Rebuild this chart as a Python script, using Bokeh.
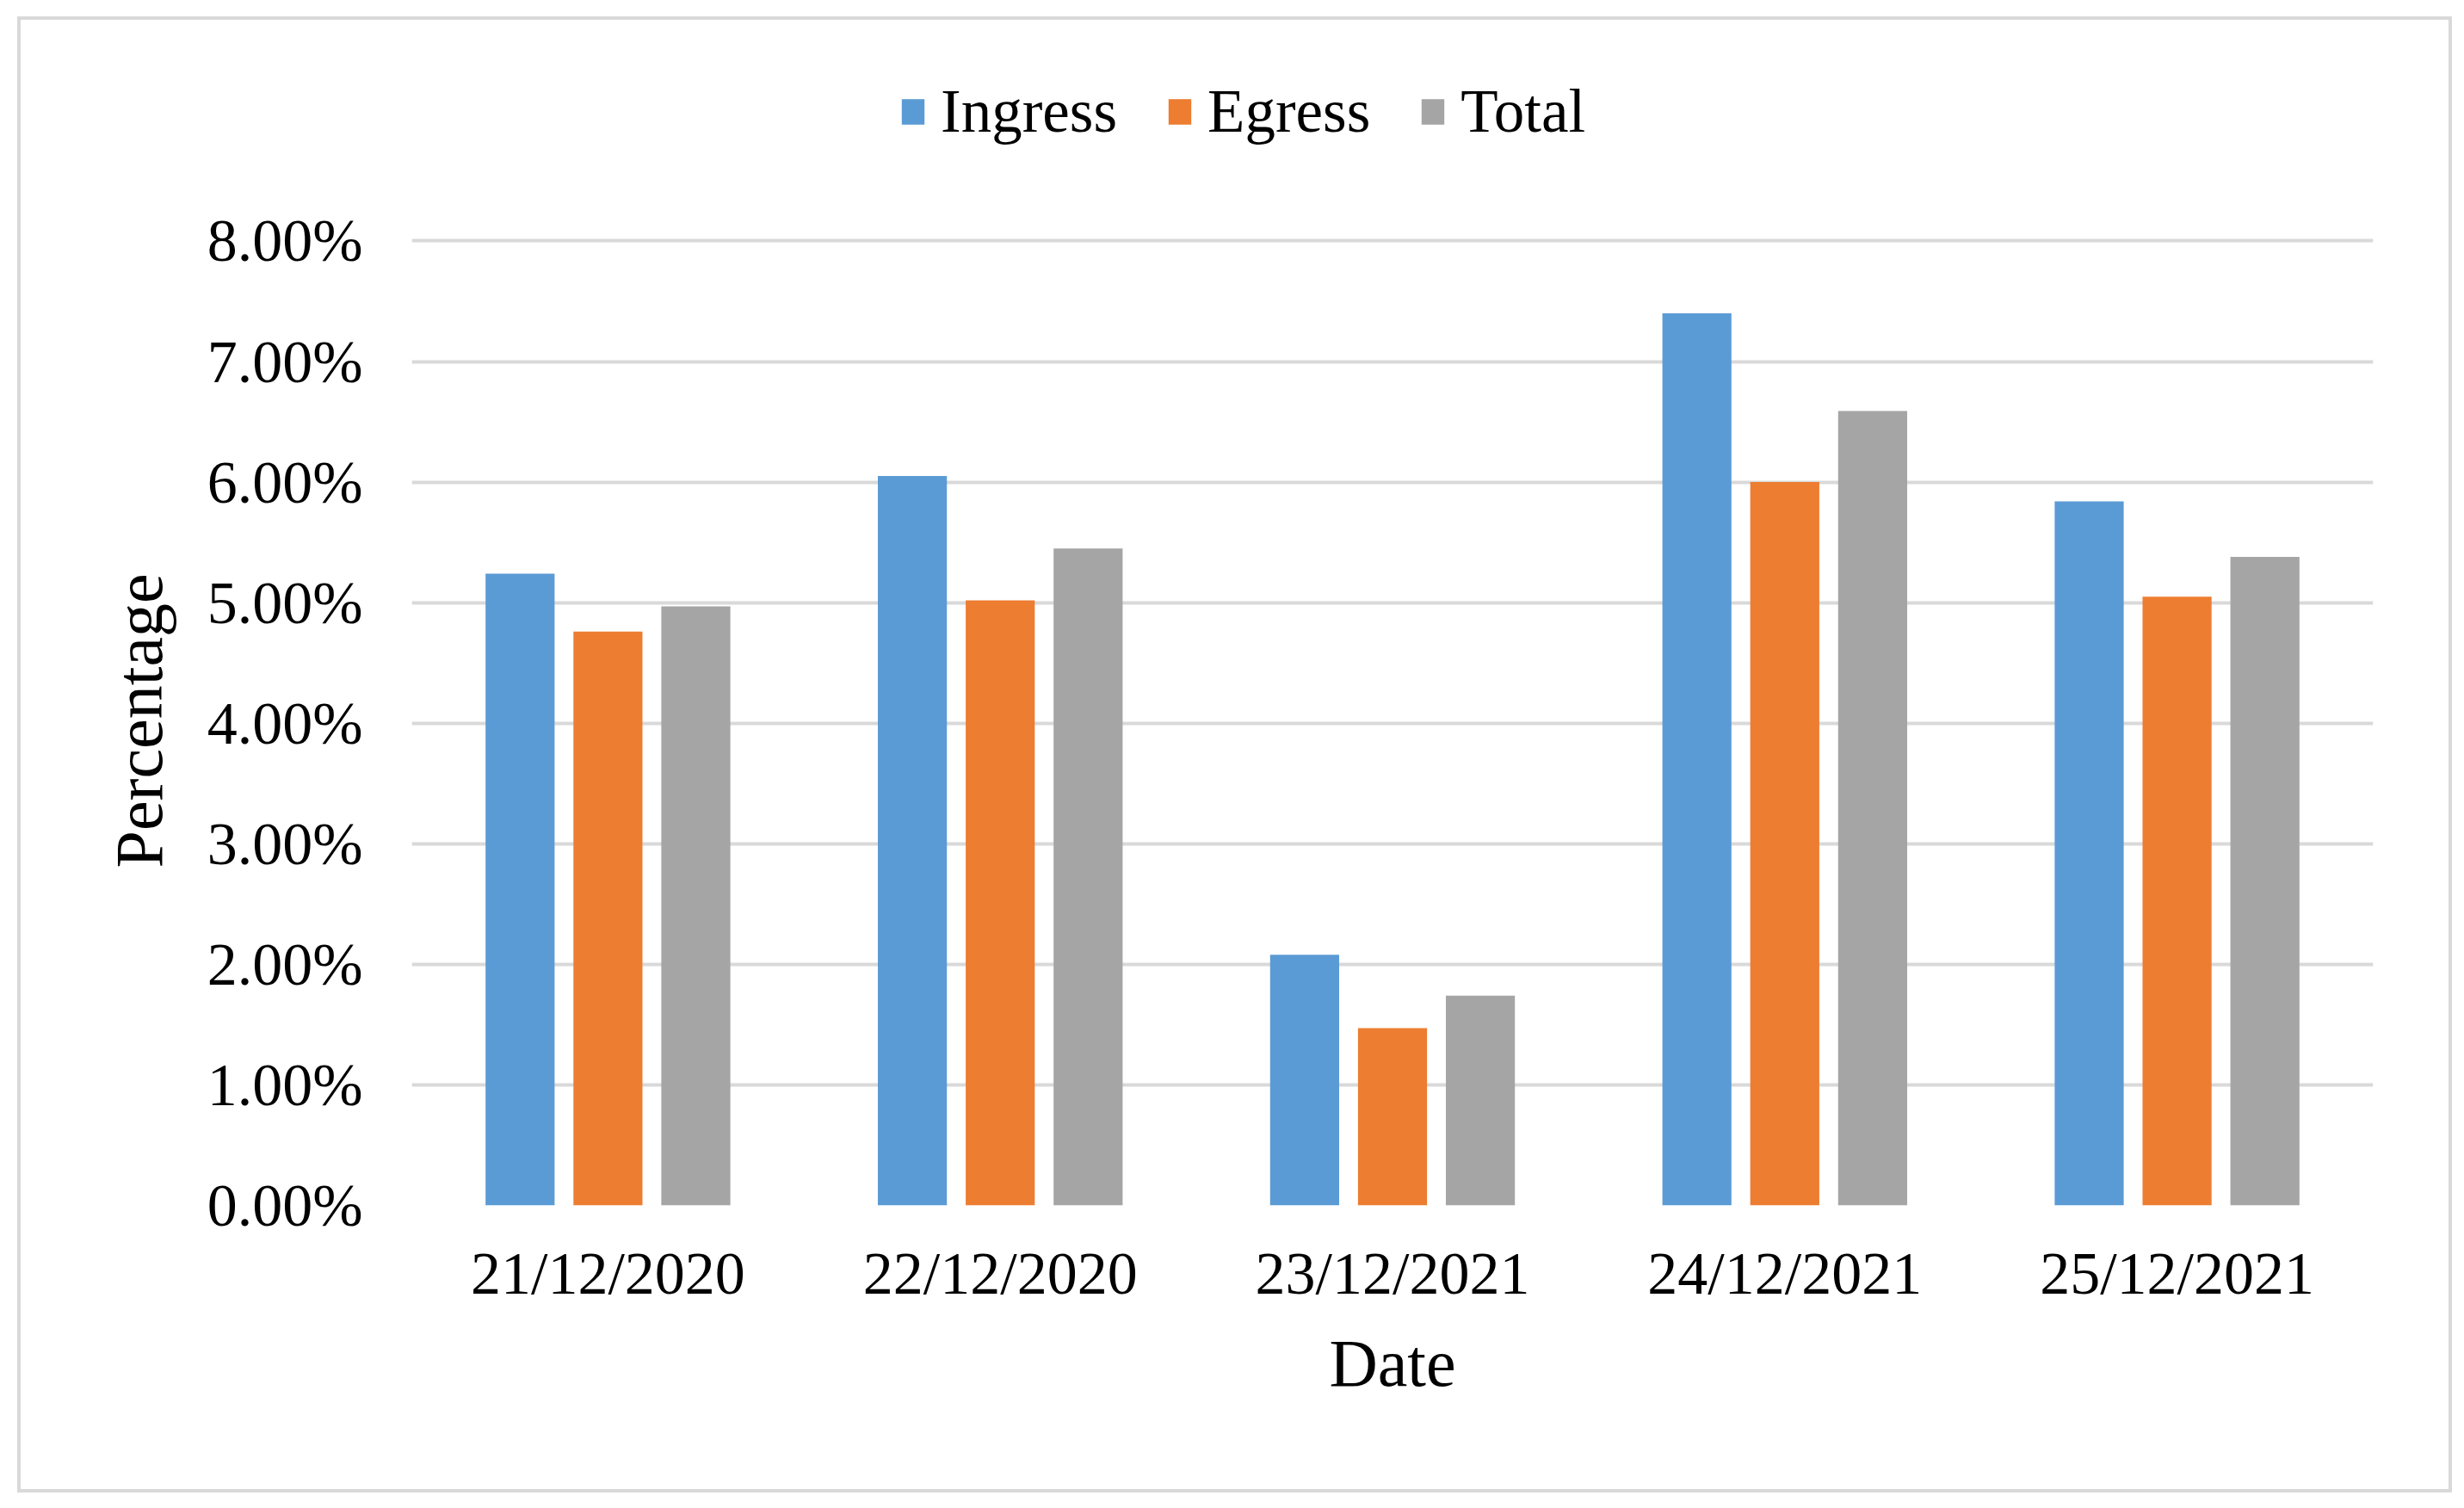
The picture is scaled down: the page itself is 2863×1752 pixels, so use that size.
from bokeh.plotting import figure
from bokeh.models import (ColumnDataSource, FactorRange, Range1d, FixedTicker,
                          PrintfTickFormatter, Legend, LegendItem, Title)
from bokeh.transform import dodge
from bokeh.embed import file_html
from bokeh.resources import INLINE

dates = ["21/12/2020", "22/12/2020", "23/12/2021", "24/12/2021", "25/12/2021"]
ingress = [5.24, 6.05, 2.08, 7.40, 5.84]
egress = [4.76, 5.02, 1.47, 6.00, 5.05]
total = [4.97, 5.45, 1.74, 6.59, 5.38]
series_names = ["Ingress", "Egress", "Total"]
y_ticks = [0, 1, 2, 3, 4, 5, 6, 7, 8]

colors = ["#5B9BD5", "#ED7D31", "#A5A5A5"]
FONT = "Liberation Serif"

src = ColumnDataSource(dict(date=dates, Ingress=ingress, Egress=egress, Total=total))

# frame extends above the 8% line so the legend can sit inside it
p = figure(x_range=FactorRange(*dates), y_range=Range1d(0, 9.617),
           width=2829, height=1715, output_backend="svg", toolbar_location=None,
           min_border_left=454, min_border_right=96, min_border_top=30,
           min_border_bottom=338, margin=(19, 0, 0, 20))
p.styles = {"border": "4px solid #d9d9d9"}
p.outline_line_color = None
p.background_fill_color = "white"
p.border_fill_color = "white"

offsets = [-0.224, 0.0, 0.224]
renderers = []
for name, off, c in zip(series_names, offsets, colors):
    r = p.vbar(x=dodge("date", off, range=p.x_range), top=name, width=0.176,
               source=src, fill_color=c, line_color=None)
    renderers.append(r)

p.xgrid.grid_line_color = None
p.ygrid.grid_line_color = "#d9d9d9"
p.ygrid.grid_line_width = 4
p.yaxis.ticker = FixedTicker(ticks=y_ticks)
p.yaxis.formatter = PrintfTickFormatter(format="%.2f%%")

for ax in (p.xaxis[0], p.yaxis[0]):
    ax.axis_line_color = None
    ax.major_tick_line_color = None
    ax.minor_tick_line_color = None
    ax.major_label_text_font = FONT
    ax.major_label_text_font_size = "70px"
    ax.major_label_text_color = "#000000"
    ax.axis_label_text_font = FONT
    ax.axis_label_text_font_size = "78px"
    ax.axis_label_text_font_style = "normal"
    ax.axis_label_text_color = "#000000"

p.xaxis.axis_label = "Date"
p.xaxis.major_label_standoff = 34
p.xaxis.axis_label_standoff = 19
p.yaxis.major_label_standoff = 51

ytitle = Title(text="Percentage", align="left", offset=383, standoff=48, padding=9,
               text_font=FONT, text_font_size="78px", text_font_style="normal",
               text_color="#000000")
p.add_layout(ytitle, "left")

legend = Legend(items=[LegendItem(label=n, renderers=[r]) for n, r in zip(series_names, renderers)],
                orientation="horizontal", location=(566, 1230))
legend.label_text_font = FONT
legend.label_text_font_size = "71px"
legend.label_text_color = "#000000"
legend.glyph_width = 33
legend.glyph_height = 37
legend.label_standoff = 16
legend.spacing = 56
legend.padding = 0
legend.margin = 0
legend.border_line_color = None
legend.background_fill_alpha = 0
p.add_layout(legend, "center")

open("out.html", "w").write(file_html(p, INLINE))
